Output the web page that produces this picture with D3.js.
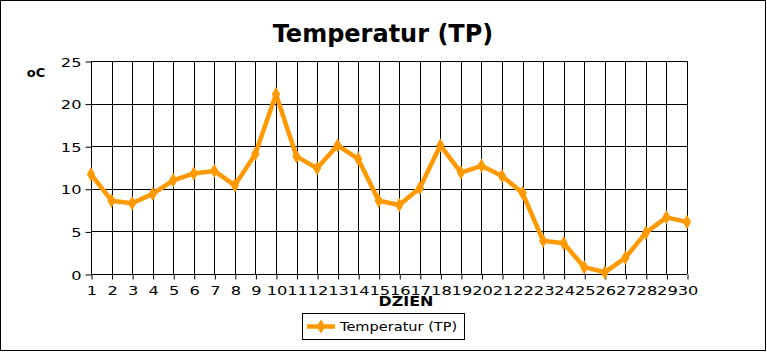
<!DOCTYPE html>
<html><head><meta charset="utf-8">
<script src="https://cdn.jsdelivr.net/npm/d3@7"></script>
<style>body{margin:0;background:#fff}svg{display:block}</style>
</head><body>
<script>
const days = d3.range(1, 31);
const temps = [11.7, 8.6, 8.3, 9.4, 11.0, 11.8, 12.1, 10.4, 14.1, 21.1, 13.8, 12.4, 15.1, 13.5, 8.6, 8.1, 10.1, 15.1, 11.9, 12.7, 11.5, 9.5, 3.9, 3.6, 0.8, 0.2, 1.9, 4.85, 6.65, 6.1];
const yTicks = [0, 5, 10, 15, 20, 25];
const seriesName = "Temperatur (TP)";
const title = "Temperatur (TP)";
const xTitle = "DZIEN";
const yTitle = "oC";

const W = 767, H = 352;
const svg = d3.select("body").append("svg").attr("width", W).attr("height", H);
svg.append("rect").attr("x", 0.5).attr("y", 0.5).attr("width", 765).attr("height", 350)
  .attr("fill", "#fff").attr("stroke", "#000").attr("stroke-width", 1);
svg.append("line").attr("x1", 765.5).attr("x2", 765.5).attr("y1", 1).attr("y2", 351).attr("stroke", "#000");
svg.append("line").attr("x1", 1).attr("x2", 766).attr("y1", 350.5).attr("y2", 350.5).attr("stroke", "#000");

const x = d3.scaleLinear().domain([1, 30]).range([91, 687]);
const y = d3.scaleLinear().domain([0, 25]).range([274, 61]);
const font = "DejaVu Sans, sans-serif";
const SX = 1.3;

// grid
svg.append("g").selectAll("line").data(yTicks).join("line")
  .attr("x1", x(1)).attr("x2", x(30))
  .attr("y1", d => Math.round(y(d)) + 0.5).attr("y2", d => Math.round(y(d)) + 0.5)
  .attr("stroke", "#000");
svg.append("g").selectAll("line").data(days).join("line")
  .attr("x1", d => Math.round(x(d)) + 0.5).attr("x2", d => Math.round(x(d)) + 0.5)
  .attr("y1", y(25)).attr("y2", y(0))
  .attr("stroke", "#000");

// axes
const yAxis = d3.axisLeft(y).tickValues(yTicks).tickSize(6).tickPadding(3);
const gy = svg.append("g").attr("transform", `translate(${Math.round(x(1)) + 0.5},0.5)`).call(yAxis);
gy.select(".domain").remove();
gy.selectAll("text").attr("font-family", font).attr("font-size", 12.5).attr("fill", "#000")
  .attr("x", -10 / SX).attr("dy", "0.36em").attr("transform", `scale(${SX},1)`);

const xAxis = d3.axisBottom(x).tickValues(days).tickFormat(d3.format("d")).tickSize(5).tickPadding(7);
const gx = svg.append("g").attr("transform", `translate(0.5,${Math.round(y(0)) + 0.5})`).call(xAxis);
gx.select(".domain").remove();
gx.selectAll("text").attr("font-family", font).attr("font-size", 12.5).attr("fill", "#000")
  .attr("transform", `scale(${SX},1)`);

// titles
svg.append("text").attr("x", 383).attr("y", 42).attr("text-anchor", "middle")
  .attr("font-family", font).attr("font-weight", "bold").attr("font-size", 24).text(title);
svg.append("text").attr("x", 36).attr("y", 77).attr("text-anchor", "middle")
  .attr("font-family", font).attr("font-weight", "bold").attr("font-size", 13).text(yTitle);
svg.append("text").attr("transform", "translate(406,306) scale(1.18,1)").attr("text-anchor", "middle")
  .attr("font-family", font).attr("font-weight", "bold").attr("font-size", 13.5).text(xTitle);

// line
const color = "#ff9900";
const line = d3.line().x((d, i) => x(days[i])).y(d => y(d));
svg.append("path").datum(temps).attr("d", line).attr("fill", "none")
  .attr("stroke", color).attr("stroke-width", 4.5).attr("stroke-linejoin", "round");
const diamond = d3.symbol().type(d3.symbolDiamond).size(60);
svg.append("g").selectAll("path").data(temps).join("path")
  .attr("d", diamond)
  .attr("transform", (d, i) => `translate(${x(days[i])},${y(d)})`)
  .attr("fill", color);

// legend
svg.append("rect").attr("x", 302.5).attr("y", 313.5).attr("width", 162).attr("height", 26)
  .attr("fill", "#fff").attr("stroke", "#000");
svg.append("line").attr("x1", 307).attr("x2", 335).attr("y1", 326.5).attr("y2", 326.5)
  .attr("stroke", color).attr("stroke-width", 4.5);
svg.append("path").attr("d", diamond).attr("transform", "translate(321,326.5)").attr("fill", color);
svg.append("text").attr("transform", "translate(340,331) scale(1.12,1)").attr("font-family", font).attr("font-size", 13)
  .text(seriesName);
</script>
</body></html>
